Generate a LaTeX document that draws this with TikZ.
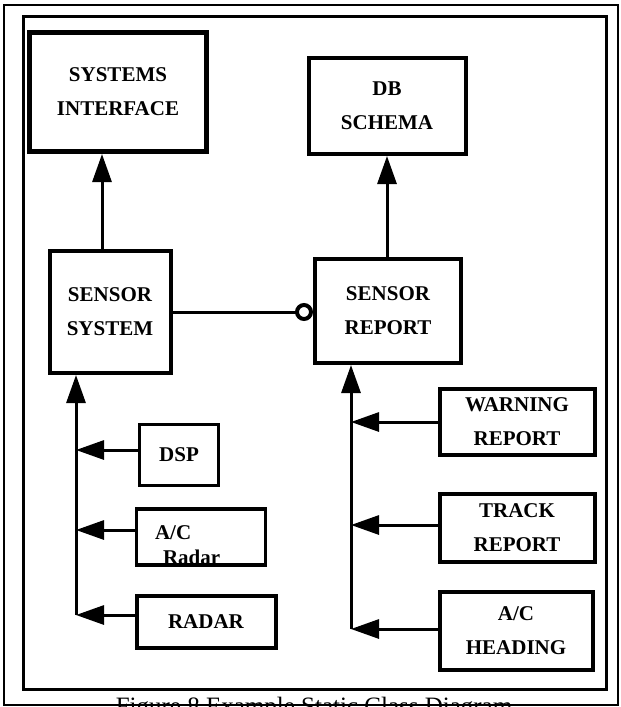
\documentclass[tikz,border=0pt]{standalone}
\usepackage{fontspec}
\setmainfont{Liberation Serif}
\usetikzlibrary{arrows.meta}

\begin{document}
\begin{tikzpicture}[x=1pt, y=-1pt,
    classbox/.style={rectangle, draw=black, line width=4pt, fill=white,
        align=center, inner sep=0pt,
        font=\fontsize{21}{34}\selectfont\bfseries},
    arrow/.style={-{Triangle[length=28pt, width=19pt]}, line width=3pt},
    link/.style={-{Circle[open, length=18pt, line width=4pt]}, line width=3pt}
]
    \path[use as bounding box, clip] (0,0) rectangle (621,707);
    \draw[line width=2pt] (4,5) rectangle (618,705);
    \draw[line width=3pt] (23,16) rectangle (606,689);

    \node[classbox, line width=5pt, minimum width=177pt, minimum height=119pt] (si) at (118,92) {SYSTEMS\\INTERFACE};
    \node[classbox, minimum width=157pt, minimum height=96pt] (db) at (387,106) {DB\\SCHEMA};
    \node[classbox, minimum width=121pt, minimum height=122pt] (ss) at (110,312) {SENSOR\\SYSTEM};
    \node[classbox, minimum width=146pt, minimum height=104pt] (sr) at (388,311) {SENSOR\\REPORT};
    \node[classbox, line width=3.5pt, minimum width=79pt, minimum height=61pt] (dsp) at (179,455) {DSP};
    \node[classbox, line width=3.5pt, minimum width=129pt, minimum height=56pt, text width=110pt, align=left,
        font=\fontsize{21}{25}\selectfont\bfseries] (acr) at (201,537)
        {\rule{0pt}{30pt}\hspace*{9pt}A/C\\\hspace*{17pt}Radar};
    \node[classbox, minimum width=139pt, minimum height=52pt] (rad) at (206,622) {RADAR};
    \node[classbox, minimum width=155pt, minimum height=66pt] (wr) at (517,422) {WARNING\\REPORT};
    \node[classbox, minimum width=155pt, minimum height=68pt] (tr) at (517,528) {TRACK\\REPORT};
    \node[classbox, minimum width=153pt, minimum height=78pt] (ah) at (516,631) {A/C\\HEADING};
    \node[anchor=north, inner sep=0pt, font=\fontsize{25}{28}\selectfont] (cap) at (314,697) {Figure 8 Example Static Class Diagram};

    \coordinate (lbus) at (76,615);
    \coordinate (rbus) at (351,629);

    \draw[arrow] ([xshift=-8pt]ss.north) -- ([xshift=-8pt]ss.north |- si.south);
    \draw[arrow] (sr.north -| db.south) -- (db.south);
    \draw[link] (ss.east) -- (ss.east -| sr.west);
    \draw[arrow] (lbus) -- (lbus |- ss.south);
    \draw[arrow] ([yshift=5pt]dsp.west) -- ([yshift=5pt]dsp.west -| lbus);
    \draw[arrow] ([yshift=7pt]acr.west) -- ([yshift=7pt]acr.west -| lbus);
    \draw[arrow] ([yshift=7pt]rad.west) -- (lbus);
    \draw[arrow] (rbus) -- (rbus |- sr.south);
    \draw[arrow] (wr.west) -- (wr.west -| rbus);
    \draw[arrow] ([yshift=3pt]tr.west) -- ([yshift=3pt]tr.west -| rbus);
    \draw[arrow] ([yshift=2pt]ah.west) -- (rbus);
\end{tikzpicture}
\end{document}
